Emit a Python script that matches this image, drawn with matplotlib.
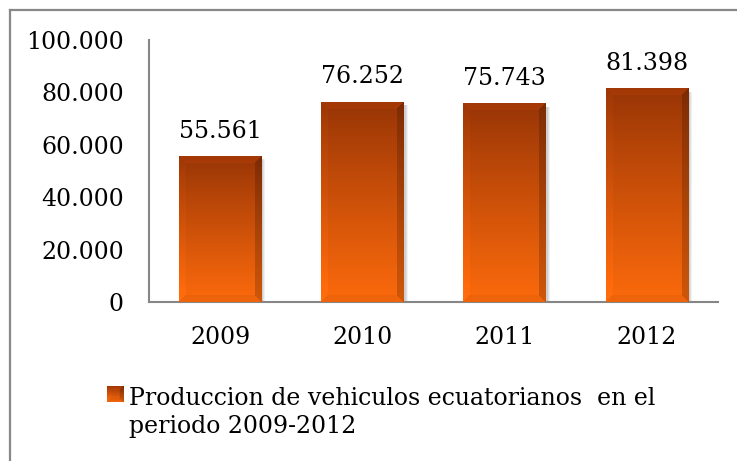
#!/usr/bin/env python3

import numpy as np
import matplotlib
matplotlib.use('Agg')
import matplotlib.pyplot as plt
from matplotlib.patches import Rectangle
from matplotlib.lines import Line2D

years = ['2009', '2010', '2011', '2012']
produccion = [55561, 76252, 75743, 81398]
y_ticks = [0, 20000, 40000, 60000, 80000, 100000]
legend_label = 'Produccion de vehiculos ecuatorianos  en el\nperiodo 2009-2012'

plt.rcParams['font.family'] = ['DejaVu Serif']
fs = 17


def miles(v):
    return f'{v:,}'.replace(',', '.')


def bar_image(w, h, bev=7):
    # vertical gradient dark on top, bright orange at bottom, with a bevel frame
    top = np.array([0x96, 0x34, 0x06]) / 255
    bot = np.array([0xfc, 0x6a, 0x0c]) / 255
    t = np.linspace(0, 1, h)[:, None, None] ** 0.9
    img = top * (1 - t) + bot * t
    img = np.repeat(img, w, axis=1)
    yy, xx = np.mgrid[0:h, 0:w]
    dl, dr, dt, db = xx, w - 1 - xx, yy, h - 1 - yy
    m = np.minimum(np.minimum(dl, dr), np.minimum(dt, db))
    edge = m < bev
    fac = np.ones((h, w))
    fac[edge & (dt == m)] = 1.08
    fac[edge & (dl == m) & (dt != m)] = 1.04
    fac[edge & (db == m)] = 0.95
    fac[edge & (dr == m)] = 0.82
    img = np.clip(img * fac[:, :, None], 0, 1)
    return img


fig = plt.figure(figsize=(7.37, 4.61), dpi=100)
ax = fig.add_axes([149 / 737, 159 / 461, 569 / 737, 262 / 461])

x = np.arange(len(years))
bars = ax.bar(x, produccion, width=0.58, color='#d9530a', zorder=2)
ax.set_xlim(-0.5, len(years) - 0.5)
ax.set_ylim(0, 100000)

for b, v in zip(bars, produccion):
    x0, y0 = b.get_x(), b.get_y()
    bw, bh = b.get_width(), b.get_height()
    p0 = ax.transData.transform((x0, y0))
    p1 = ax.transData.transform((x0 + bw, y0 + bh))
    wpx, hpx = int(round(p1[0] - p0[0])), int(round(p1[1] - p0[1]))
    # soft shadow on the right
    for k, a in [(4, 0.08), (3, 0.10), (2, 0.12)]:
        sh = Rectangle((x0 + bw, y0), k / wpx * bw, bh - bh * 3 / hpx, color='#555555',
                       alpha=a, lw=0, zorder=1)
        ax.add_patch(sh)
    ax.imshow(bar_image(wpx, hpx), extent=(x0, x0 + bw, y0, y0 + bh), aspect='auto',
              interpolation='bilinear', zorder=3)
    ax.annotate(miles(v), (x0 + bw / 2, v), xytext=(0, 13.5), textcoords='offset points',
                ha='center', va='baseline', fontsize=fs, color='black')

ax.set_aspect('auto')
ax.set_xlim(-0.5, len(years) - 0.5)
ax.set_ylim(0, 100000)
ax.set_xticks(x)
ax.set_xticklabels(years)
ax.set_yticks(y_ticks)
ax.set_yticklabels([miles(v) for v in y_ticks])
ax.tick_params(axis='both', length=0, labelsize=fs, colors='black')
ax.tick_params(axis='x', pad=17)
ax.tick_params(axis='y', pad=18)

for s in ['top', 'right']:
    ax.spines[s].set_visible(False)
for s in ['left', 'bottom']:
    ax.spines[s].set_color('#868686')
    ax.spines[s].set_linewidth(1.5)

# outer chart frame (only top and left visible in the crop)
fig.add_artist(Line2D([10 / 737, 1], [1 - 10 / 461, 1 - 10 / 461], color='#888888', lw=1.6))
fig.add_artist(Line2D([10 / 737, 10 / 737], [0, 1 - 10 / 461], color='#888888', lw=1.6))

# legend
lx0, ly0 = 107 / 737, 1 - 402 / 461
lax = fig.add_axes([lx0, ly0, 16 / 737, 16 / 461])
lax.imshow(bar_image(16, 16, bev=4), aspect='auto', interpolation='bilinear')
lax.axis('off')
fig.text(129 / 737, 1 - 433 / 461, legend_label, fontsize=fs, ha='left', va='baseline',
         linespacing=1.3, transform=fig.transFigure)

plt.savefig('out.png', dpi=100)
